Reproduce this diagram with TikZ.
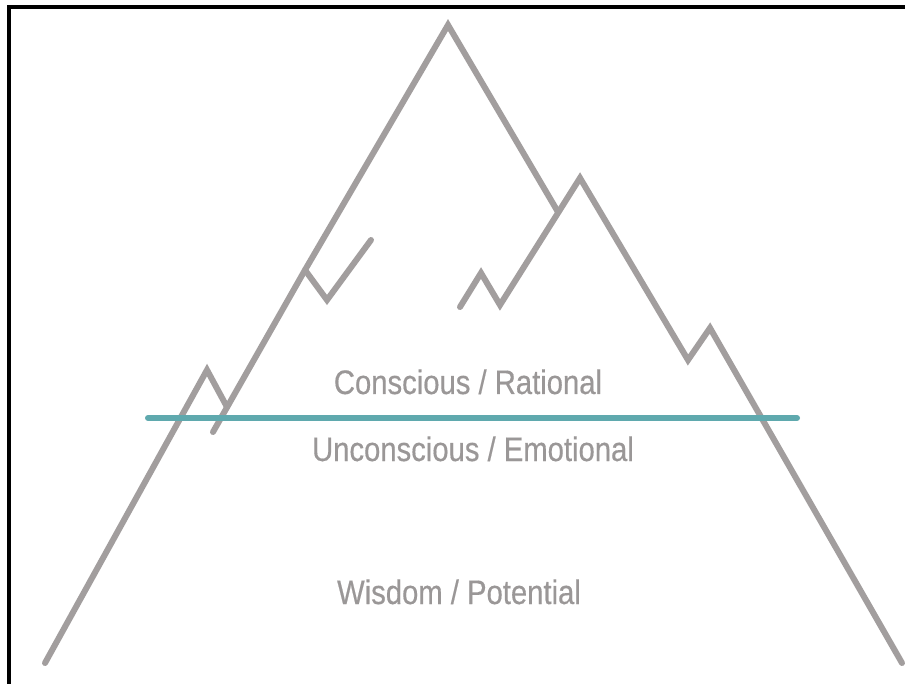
\documentclass[tikz,border=0pt]{standalone}
\usepackage{fontspec}
\setmainfont{Liberation Sans}[FakeStretch=0.86,FakeBold=0.4]
\definecolor{mgrey}{HTML}{A29E9E}
\definecolor{tgrey}{HTML}{9A9797}
\definecolor{wline}{HTML}{5FA9AE}
\begin{document}
\begin{tikzpicture}[x=1pt,y=-1pt,
  mount/.style={draw=mgrey, line width=6pt, line cap=round, line join=miter},
  waterline/.style={draw=wline, line width=6pt, line cap=round},
  label/.style={text=tgrey, font=\fontsize{34}{38}\selectfont, inner sep=0pt, anchor=base}]
\useasboundingbox (0,0) rectangle (905,684);
\fill[white] (0,0) rectangle (905,684);
\draw[black, line width=4.5pt] (9,690) -- (9,7) -- (910,7);
% outer left small peak
\draw[mount] (45,663) -- (207,370) -- (227,407);
% main left flank with branch
\draw[mount] (213,432) -- (305,270) -- (448,25) -- (558,212);
\draw[mount] (305,270) -- (327,300) -- (371,240);
% second peak
\draw[mount] (460,307) -- (481,273) -- (500,305) -- (580,178) -- (688,360) -- (710,328) -- (902,663);
% water line
\draw[waterline] (148,418) -- (797,418);
\node[label] (cons) at (468,394) {Conscious / Rational};
\node[label] (uncons) at (473,461) {Unconscious / Emotional};
\node[label] (wis) at (459,604) {Wisdom / Potential};
\end{tikzpicture}
\end{document}
